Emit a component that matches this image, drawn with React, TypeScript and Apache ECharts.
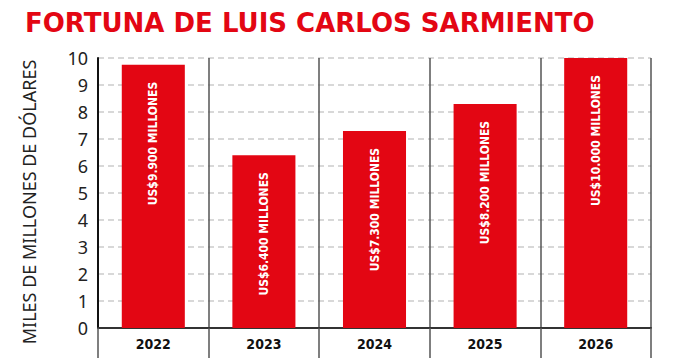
import React, { useEffect, useRef } from "react";
import * as echarts from "echarts";

const titleText = "FORTUNA DE LUIS CARLOS SARMIENTO";
const yAxisTitle = "MILES DE MILLONES DE DÓLARES";
const years = ["2022", "2023", "2024", "2025", "2026"];
const fortune = [9.75, 6.4, 7.3, 8.3, 10];
const barLabels = [
  "US$9.900 MILLONES",
  "US$6.400 MILLONES",
  "US$7.300 MILLONES",
  "US$8.200 MILLONES",
  "US$10.000 MILLONES",
];

const RED = "#e30613";
const NARROW = "'DejaVu Sans Condensed', 'Liberation Sans Narrow', sans-serif";

export default function App() {
  const ref = useRef<HTMLDivElement>(null);
  useEffect(() => {
    if (!ref.current) return;
    const chart = echarts.init(ref.current, undefined, { renderer: "svg" });
    chart.setOption({
      animation: false,
      backgroundColor: "#ffffff",
      title: {
        text: titleText,
        left: 20,
        top: 5,
        textStyle: {
          color: RED,
          fontSize: 26,
          fontWeight: "bold",
          fontFamily: "'DejaVu Sans', sans-serif",
        },
      },
      graphic: [
        {
          type: "text",
          x: 29,
          y: 202,
          rotation: Math.PI / 2,
          style: {
            text: yAxisTitle,
            fill: "#222",
            fontSize: 18,
            fontFamily: "'Noto Sans', sans-serif",
            textAlign: "center",
            textVerticalAlign: "middle",
          },
        },
      ],
      grid: { left: 98, right: 29, top: 58, bottom: 31, containLabel: false },
      xAxis: {
        type: "category",
        data: years,
        boundaryGap: true,
        axisLine: { show: true, lineStyle: { color: "#333", width: 2 } },
        axisTick: { show: true, length: 30, lineStyle: { color: "#555", width: 1.5 } },
        axisLabel: {
          color: "#111",
          fontSize: 14,
          fontWeight: "bold",
          fontFamily: NARROW,
          margin: 9,
        },
        splitLine: { show: true, lineStyle: { color: "#555", width: 1.5 } },
      },
      yAxis: {
        type: "value",
        min: 0,
        max: 10,
        interval: 1,
        axisLine: { show: true, lineStyle: { color: "#111", width: 2 } },
        axisTick: { show: false },
        axisLabel: {
          color: "#222",
          fontSize: 18,
          margin: 10,
          fontFamily: "'Noto Sans', sans-serif",
        },
        splitLine: {
          show: true,
          lineStyle: { color: "#cccccc", width: 1.5, type: [6, 4] },
        },
      },
      series: [
        {
          type: "bar",
          data: fortune,
          barWidth: "57%",
          itemStyle: { color: RED },
          z: 3,
          label: {
            show: true,
            position: "insideTop",
            rotate: 90,
            align: "right",
            verticalAlign: "middle",
            distance: 17,
            color: "#ffffff",
            fontSize: 12,
            fontWeight: "bold",
            fontFamily: NARROW,
            formatter: (p: any) => barLabels[p.dataIndex],
          },
        },
      ],
    });
    return () => chart.dispose();
  }, []);
  return (
    <div
      ref={ref}
      style={{ position: "absolute", left: 0, top: 0, width: 680, height: 359 }}
    />
  );
}
